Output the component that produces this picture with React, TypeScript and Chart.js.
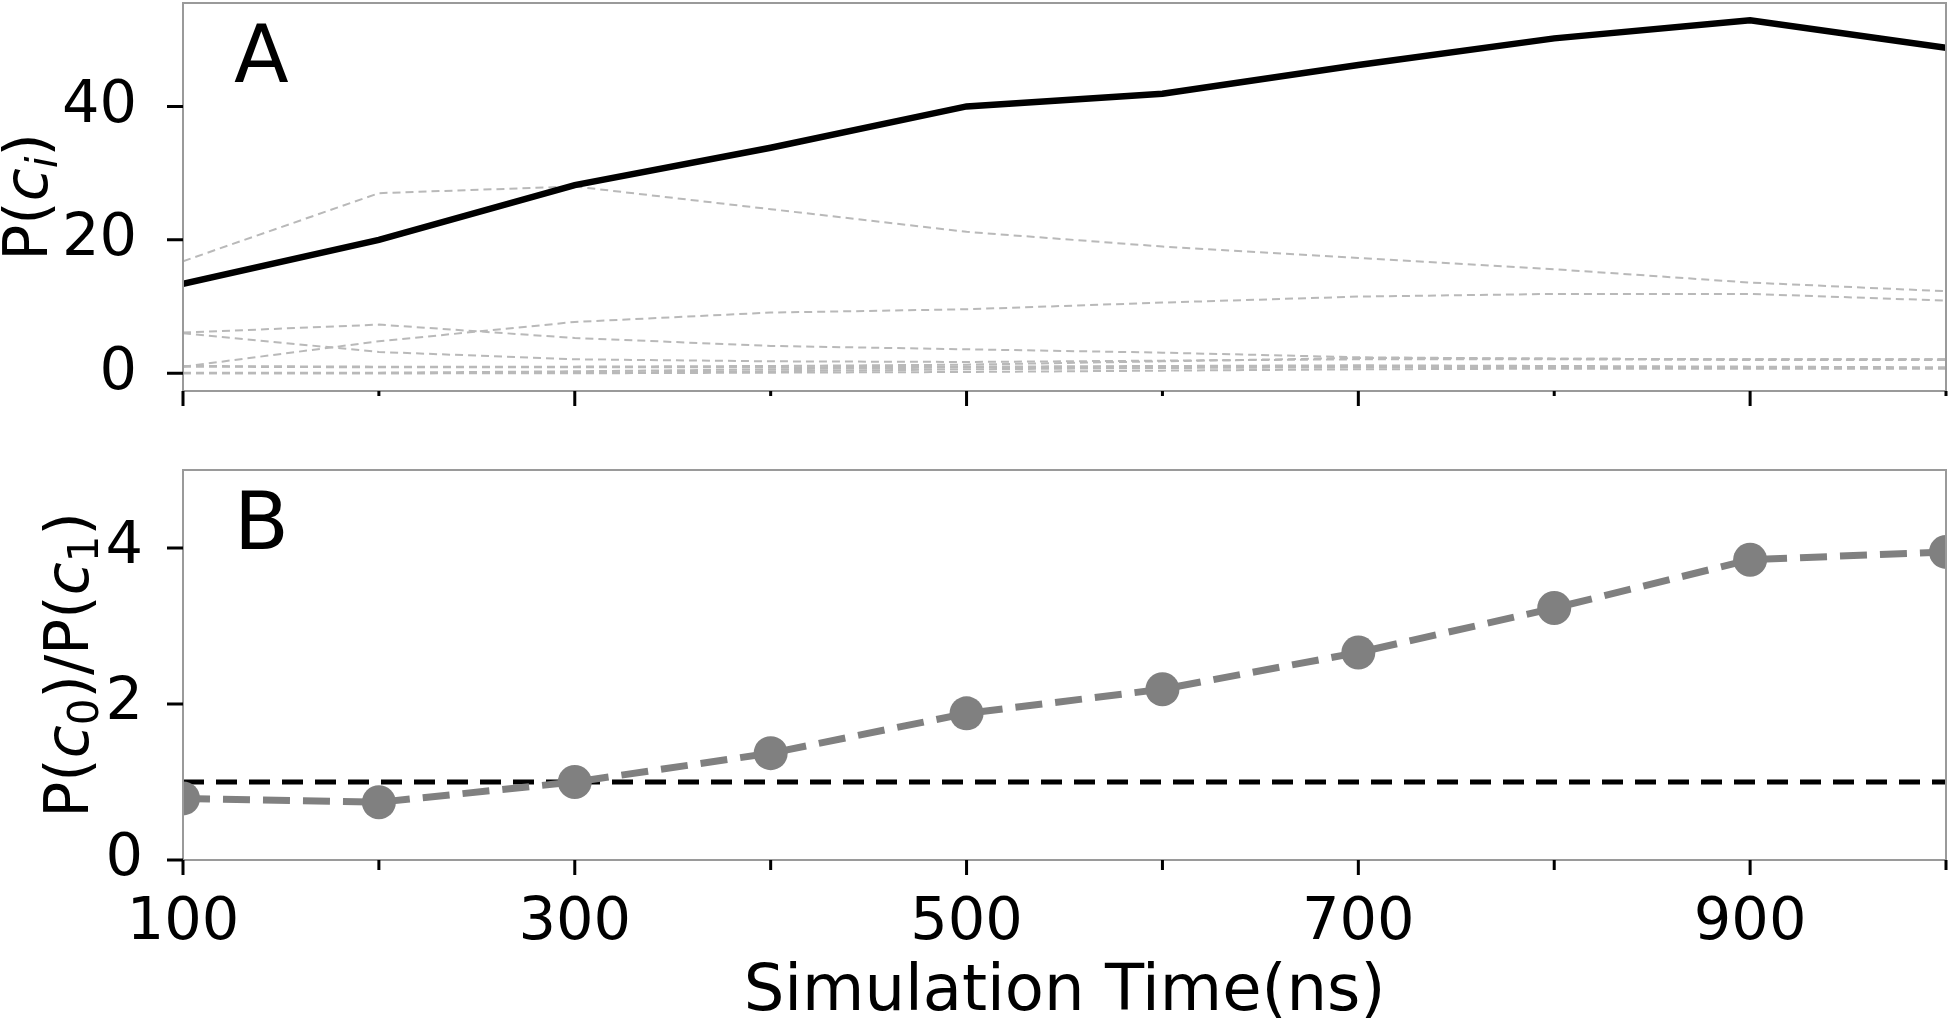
import React, { useEffect, useRef } from "react";
import { Chart, registerables } from "chart.js";

Chart.register(...registerables);

// ---------------- data ----------------
const TIME_NS = [100, 200, 300, 400, 500, 600, 700, 800, 900, 1000];

// Panel A: populations of the clusters (%)
const P_C0 = [13.4, 20.0, 28.2, 33.8, 40.0, 41.9, 46.2, 50.2, 52.9, 48.8];
const P_C1 = [16.8, 27.0, 28.0, 24.6, 21.2, 19.0, 17.3, 15.6, 13.6, 12.3];
const P_C2 = [1.0, 4.8, 7.7, 9.1, 9.6, 10.6, 11.5, 11.9, 11.9, 10.9];
const P_C3 = [6.1, 7.3, 5.3, 4.1, 3.6, 3.1, 2.4, 2.2, 2.1, 2.1];
const P_C4 = [6.0, 3.2, 2.1, 1.8, 1.7, 1.9, 2.1, 2.1, 2.0, 2.0];
const P_C5 = [1.1, 1.0, 1.0, 1.1, 1.3, 1.8, 2.3, 2.2, 2.1, 2.1];
const P_C6 = [1.0, 0.9, 0.9, 0.9, 1.0, 1.1, 1.2, 1.1, 1.0, 0.9];
const P_C7 = [0.1, 0.1, 0.3, 0.6, 0.9, 1.0, 1.0, 0.9, 0.9, 0.8];
const P_C8 = [0.0, 0.0, 0.1, 0.3, 0.6, 0.8, 0.9, 0.9, 0.8, 0.8];
const P_C9 = [0.0, 0.0, 0.0, 0.1, 0.2, 0.4, 0.6, 0.7, 0.7, 0.7];
const OTHER_CLUSTERS = [P_C1, P_C2, P_C3, P_C4, P_C5, P_C6, P_C7, P_C8, P_C9];

// Panel B: ratio P(c0)/P(c1)
const RATIO = [0.79, 0.74, 1.0, 1.37, 1.88, 2.19, 2.66, 3.23, 3.85, 3.95];
const REF_RATIO = 1;

// ticks
const X_MIN = 100;
const X_MAX = 1000;
const X_TICKS = [100, 200, 300, 400, 500, 600, 700, 800, 900, 1000];
const X_LABELED = [100, 300, 500, 700, 900];
const Y_TICKS_A = [0, 20, 40];
const Y_TICKS_B = [0, 2, 4];
const Y_RANGE_A = [-2.65, 55.5];
const Y_RANGE_B = [0, 5];

const X_TITLE = "Simulation Time(ns)";

// ---------------- styles ----------------
const FONT = "'DejaVu Sans', sans-serif";
const SPINE = "#9a9a9a";
const W = 1950;

type Part = { t: string; italic?: boolean; sub?: boolean };
const LABEL_A: Part[] = [
  { t: "P(" },
  { t: "c", italic: true },
  { t: "i", italic: true, sub: true },
  { t: ")" },
];
const LABEL_B: Part[] = [
  { t: "P(" },
  { t: "c", italic: true },
  { t: "0", sub: true },
  { t: ")/P(" },
  { t: "c", italic: true },
  { t: "1", sub: true },
  { t: ")" },
];

const toXY = (arr: number[]) => TIME_NS.map((t, i) => ({ x: t, y: arr[i] }));

function drawRotatedLabel(
  ctx: CanvasRenderingContext2D,
  parts: Part[],
  fs: number,
  baselineX: number,
  cy: number
) {
  const fontOf = (p: Part) => {
    const size = p.sub ? fs * 0.7 : fs;
    return `${p.italic ? "italic " : ""}${size}px ${FONT}`;
  };
  let total = 0;
  const widths = parts.map((p) => {
    ctx.font = fontOf(p);
    const w = ctx.measureText(p.t).width;
    total += w;
    return w;
  });
  ctx.save();
  ctx.translate(baselineX, cy);
  ctx.rotate(-Math.PI / 2);
  ctx.textAlign = "left";
  ctx.textBaseline = "alphabetic";
  ctx.fillStyle = "#000";
  let x = -total / 2;
  parts.forEach((p, i) => {
    ctx.font = fontOf(p);
    ctx.fillText(p.t, x, p.sub ? fs * 0.16 : 0);
    x += widths[i];
  });
  ctx.restore();
}

type PanelCfg = {
  id: string;
  letter: string;
  yTicks: number[];
  minorLen: number;
  label: Part[];
  labelBaselineX: number;
  xTitle?: string;
};

function panelPlugin(cfg: PanelCfg) {
  return {
    id: cfg.id,
    afterDraw(chart: any) {
      const { ctx, chartArea: ca, scales } = chart;
      const xs = scales.x;
      const ys = scales.y;
      ctx.save();
      // frame
      ctx.strokeStyle = SPINE;
      ctx.lineWidth = 2;
      ctx.strokeRect(ca.left, ca.top, ca.right - ca.left, ca.bottom - ca.top);
      // tick marks
      ctx.strokeStyle = "#000";
      ctx.lineWidth = 3;
      ctx.beginPath();
      for (const v of cfg.yTicks) {
        const py = ys.getPixelForValue(v);
        ctx.moveTo(ca.left - 16, py);
        ctx.lineTo(ca.left, py);
      }
      for (const v of X_TICKS) {
        const px = xs.getPixelForValue(v);
        const len = X_LABELED.includes(v) ? 15 : cfg.minorLen;
        ctx.moveTo(px, ca.bottom);
        ctx.lineTo(px, ca.bottom + len);
      }
      ctx.stroke();
      // panel letter
      ctx.fillStyle = "#000";
      ctx.font = `80px ${FONT}`;
      ctx.textAlign = "left";
      ctx.textBaseline = "alphabetic";
      ctx.fillText(cfg.letter, ca.left + 51, ca.top + 79);
      // y label
      drawRotatedLabel(ctx, cfg.label, 60, cfg.labelBaselineX, (ca.top + ca.bottom) / 2);
      // x title
      if (cfg.xTitle) {
        ctx.font = `64px ${FONT}`;
        ctx.textAlign = "center";
        ctx.textBaseline = "alphabetic";
        ctx.fillText(cfg.xTitle, (ca.left + ca.right) / 2, ca.bottom + 150);
      }
      ctx.restore();
    },
  };
}

const zeroPad = (s: any) => {
  s.paddingTop = 0;
  s.paddingBottom = 0;
  s.paddingLeft = 0;
  s.paddingRight = 0;
};

function xScale(showLabels: boolean, height: number, padding: number) {
  return {
    type: "linear" as const,
    min: X_MIN,
    max: X_MAX,
    afterBuildTicks: (s: any) => {
      s.ticks = X_TICKS.map((v) => ({ value: v }));
    },
    afterFit: (s: any) => {
      s.height = height;
      zeroPad(s);
    },
    grid: { display: false, drawTicks: false },
    border: { display: false },
    ticks: {
      display: showLabels,
      autoSkip: false,
      maxRotation: 0,
      padding,
      color: "#000",
      font: { family: FONT, size: 59 },
      callback: (v: any) => (X_LABELED.includes(Number(v)) ? String(v) : ""),
    },
  };
}

function yScale(range: number[], ticks: number[], padding: number) {
  return {
    type: "linear" as const,
    min: range[0],
    max: range[1],
    afterBuildTicks: (s: any) => {
      s.ticks = ticks.map((v) => ({ value: v }));
    },
    afterFit: (s: any) => {
      s.width = 183;
      zeroPad(s);
    },
    grid: { display: false, drawTicks: false },
    border: { display: false },
    ticks: {
      padding,
      color: "#000",
      font: { family: FONT, size: 59 },
      callback: (v: any) => String(v),
    },
  };
}

export default function App() {
  const refA = useRef<HTMLCanvasElement>(null);
  const refB = useRef<HTMLCanvasElement>(null);

  useEffect(() => {
    const chartA = new Chart(refA.current!, {
      type: "line",
      data: {
        datasets: [
          {
            data: toXY(P_C0),
            borderColor: "#000",
            borderWidth: 6.5,
            pointRadius: 0,
            tension: 0,
          },
          ...OTHER_CLUSTERS.map((arr) => ({
            data: toXY(arr),
            borderColor: "#b9b9b9",
            borderWidth: 2,
            borderDash: [8, 5],
            pointRadius: 0,
            tension: 0,
          })),
        ],
      },
      options: {
        responsive: false,
        animation: false,
        devicePixelRatio: 1,
        layout: { autoPadding: false, padding: { top: 3, right: 4, left: 0, bottom: 0 } },
        plugins: { legend: { display: false }, tooltip: { enabled: false } },
        scales: {
          x: xScale(false, 49, 0),
          y: yScale(Y_RANGE_A, Y_TICKS_A, 46),
        },
      },
      plugins: [
        panelPlugin({
          id: "panelA",
          letter: "A",
          yTicks: Y_TICKS_A,
          minorLen: 5,
          label: LABEL_A,
          labelBaselineX: 47,
        }),
      ],
    } as any);

    const chartB = new Chart(refB.current!, {
      type: "line",
      data: {
        datasets: [
          {
            data: toXY(RATIO),
            borderColor: "#808080",
            borderWidth: 7,
            borderDash: [27, 13],
            pointRadius: 17,
            pointBackgroundColor: "#808080",
            pointBorderWidth: 0,
            tension: 0,
          },
          {
            data: [
              { x: X_MIN, y: REF_RATIO },
              { x: X_MAX, y: REF_RATIO },
            ],
            borderColor: "#000",
            borderWidth: 5,
            borderDash: [21, 12],
            pointRadius: 0,
          },
        ],
      },
      options: {
        responsive: false,
        animation: false,
        devicePixelRatio: 1,
        layout: { autoPadding: false, padding: { top: 30, right: 4, left: 0, bottom: 0 } },
        plugins: { legend: { display: false }, tooltip: { enabled: false } },
        scales: {
          x: xScale(true, 160, 28),
          y: yScale(Y_RANGE_B, Y_TICKS_B, 40),
        },
      },
      plugins: [
        panelPlugin({
          id: "panelB",
          letter: "B",
          yTicks: Y_TICKS_B,
          minorLen: 10,
          label: LABEL_B,
          labelBaselineX: 88,
          xTitle: X_TITLE,
        }),
      ],
    } as any);

    return () => {
      chartA.destroy();
      chartB.destroy();
    };
  }, []);

  return (
    <div
      style={{
        position: "absolute",
        left: 0,
        top: 0,
        width: W,
        height: 1020,
        background: "#fff",
      }}
    >
      <canvas
        ref={refA}
        width={W}
        height={440}
        style={{ position: "absolute", left: 0, top: 0, width: W, height: 440 }}
      />
      <canvas
        ref={refB}
        width={W}
        height={580}
        style={{ position: "absolute", left: 0, top: 440, width: W, height: 580 }}
      />
    </div>
  );
}
